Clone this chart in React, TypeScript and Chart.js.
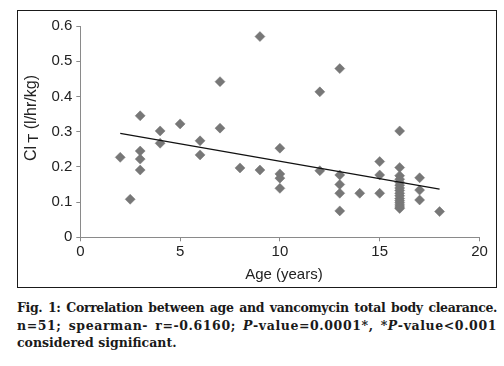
import React, { useEffect, useRef } from "react";
import { Chart, registerables } from "chart.js";

Chart.register(...registerables);

const ageYears = [
  2, 2.5,
  3, 3, 3, 3,
  4, 4,
  5,
  6, 6,
  7, 7,
  8,
  9, 9,
  10, 10, 10, 10,
  12, 12,
  13, 13, 13, 13, 13,
  14,
  15, 15, 15,
  16, 16, 16, 16, 16, 16, 16, 16, 16, 16, 16, 16, 16, 16, 16, 16,
  17, 17, 17,
  18,
];
const clearance = [
  0.227, 0.108,
  0.345, 0.245, 0.222, 0.191,
  0.302, 0.267,
  0.322,
  0.274, 0.234,
  0.442, 0.31,
  0.197,
  0.57, 0.191,
  0.253, 0.18, 0.168, 0.139,
  0.413, 0.189,
  0.479, 0.177, 0.15, 0.125, 0.075,
  0.125,
  0.215, 0.177, 0.125,
  0.302, 0.198, 0.175, 0.165, 0.156, 0.148, 0.14, 0.133, 0.125, 0.118, 0.11, 0.104, 0.098, 0.092, 0.086, 0.082,
  0.169, 0.134, 0.106,
  0.073,
];
const trendX = [2, 18];
const trendY = [0.295, 0.137];
const xTickLabels = ["0", "5", "10", "15", "20"];
const yTickLabels = ["0", "0.1", "0.2", "0.3", "0.4", "0.5", "0.6"];
const xTitle = "Age (years)";
const yTitleMain = "Cl";
const yTitleSub = "T";
const yTitleUnit = " (l/hr/kg)";

const FONT = "'Liberation Sans', Arial, sans-serif";

const titlePlugin = {
  id: "axisTitles",
  afterDraw(chart: any) {
    const { ctx, chartArea } = chart;
    ctx.save();
    ctx.fillStyle = "#222";
    ctx.font = `15px ${FONT}`;
    ctx.textAlign = "center";
    ctx.textBaseline = "middle";
    ctx.fillText(xTitle, (chartArea.left + chartArea.right) / 2 + 4, 265);

    // y title rotated
    ctx.translate(15, 108);
    ctx.rotate(-Math.PI / 2);
    ctx.textBaseline = "middle";
    ctx.textAlign = "left";
    const mainFont = `16px ${FONT}`;
    const subFont = `15px ${FONT}`;
    ctx.font = mainFont;
    const w1 = ctx.measureText(yTitleMain).width;
    ctx.font = subFont;
    const w2 = ctx.measureText(yTitleSub).width;
    ctx.font = mainFont;
    const w3 = ctx.measureText(yTitleUnit).width;
    const gap = 3;
    const total = w1 + gap + w2 + w3;
    let x = -total / 2;
    ctx.fillText(yTitleMain, x, 0);
    x += w1 + gap;
    ctx.font = subFont;
    ctx.fillText(yTitleSub, x, 1.5);
    x += w2;
    ctx.font = mainFont;
    ctx.fillText(yTitleUnit, x, 0);
    ctx.restore();
  },
};

export default function App() {
  const ref = useRef<HTMLCanvasElement | null>(null);

  useEffect(() => {
    if (!ref.current) return;
    const points = ageYears.map((a, i) => ({ x: a, y: clearance[i] }));
    const trend = trendX.map((a, i) => ({ x: a, y: trendY[i] }));
    const chart = new Chart(ref.current, {
      type: "scatter",
      data: {
        datasets: [
          {
            type: "line",
            data: trend,
            borderColor: "#111",
            borderWidth: 1.3,
            pointRadius: 0,
            fill: false,
            order: 0,
          } as any,
          {
            data: points,
            pointStyle: "rectRot",
            pointRadius: 5,
            backgroundColor: "#777777",
            borderColor: "#777777",
            borderWidth: 0.5,
            order: 1,
          },
        ],
      },
      options: {
        responsive: false,
        animation: false,
        layout: { padding: { left: 0, top: 16, right: 17.5, bottom: 0 } },
        plugins: {
          legend: { display: false },
          tooltip: { enabled: false },
        },
        scales: {
          x: {
            type: "linear",
            min: 0,
            max: 20,
            afterFit: (s: any) => {
              s.height = 50.7;
            },
            ticks: {
              stepSize: 5,
              color: "#222",
              font: { family: FONT, size: 15 },
              padding: 2,
              maxRotation: 0,
              callback: (_v: any, i: number) => xTickLabels[i],
            },
            grid: {
              display: true,
              drawOnChartArea: false,
              drawTicks: true,
              tickLength: 4,
              color: "#8a8a8a",
            },
            border: { display: true, color: "#8a8a8a", width: 1 },
          },
          y: {
            type: "linear",
            min: 0,
            max: 0.6,
            afterFit: (s: any) => {
              s.width = 63.3;
            },
            ticks: {
              stepSize: 0.1,
              color: "#222",
              font: { family: FONT, size: 15 },
              padding: 4,
              callback: (_v: any, i: number) => yTickLabels[i],
            },
            grid: {
              display: true,
              drawOnChartArea: false,
              drawTicks: true,
              tickLength: 4,
              color: "#8a8a8a",
            },
            border: { display: true, color: "#8a8a8a", width: 1 },
          },
        },
      },
      plugins: [titlePlugin],
    });
    return () => chart.destroy();
  }, []);

  const capStyle: React.CSSProperties = {
    whiteSpace: "nowrap",
    textAlign: "justify",
    textAlignLast: "justify" as any,
    height: "17.5px",
  };

  return (
    <div style={{ position: "absolute", left: 0, top: 0, width: 504, height: 366, background: "#fff" }}>
      <div
        style={{
          position: "absolute",
          left: 17,
          top: 10,
          width: 480,
          height: 278,
          border: "1.5px solid #1a1a1a",
          boxSizing: "border-box",
        }}
      />
      <canvas
        ref={ref}
        width={480}
        height={278}
        style={{ position: "absolute", left: 17, top: 10, width: 480, height: 278 }}
      />
      <div
        style={{
          position: "absolute",
          left: 17,
          top: 299,
          width: 480,
          fontFamily: "'DejaVu Serif', serif",
          fontWeight: "bold",
          fontSize: "12.5px",
          lineHeight: "17.5px",
          color: "#1a1a1a",
        }}
      >
        <div style={{ ...capStyle, letterSpacing: "-0.35px" }}>Fig. 1: Correlation between age and vancomycin total body clearance.</div>
        <div style={{ ...capStyle, letterSpacing: "0.6px" }}>
          n=51; spearman- r=-0.6160; <i>P</i>-value=0.0001*, *<i>P</i>-value&lt;0.001
        </div>
        <div style={{ height: "17.5px" }}>considered significant.</div>
      </div>
    </div>
  );
}
